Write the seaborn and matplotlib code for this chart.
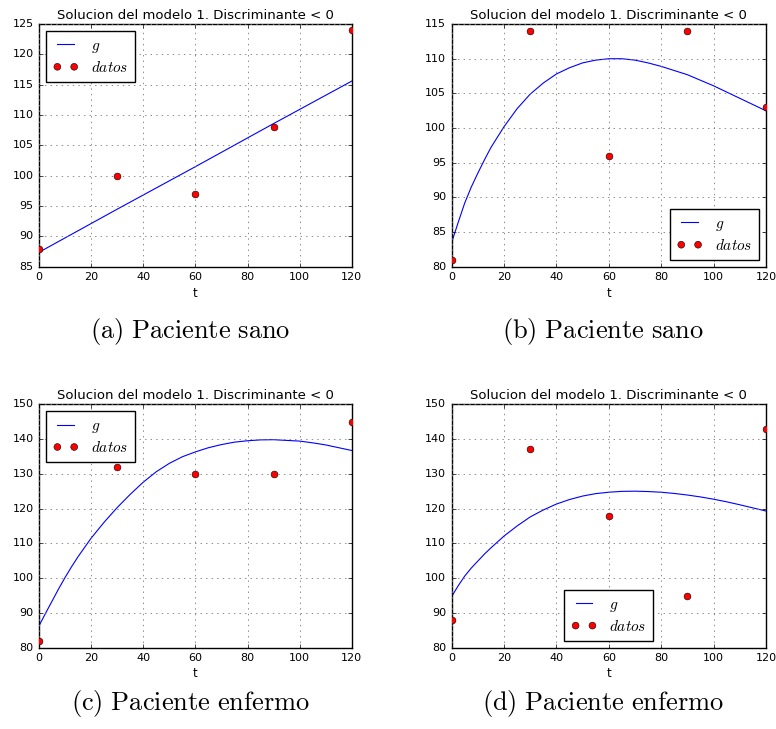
"""
Solucion del modelo 1 (discriminante < 0) para cuatro pacientes:
datos de glucosa medidos y curva g del modelo, en una rejilla 2x2.
"""

import matplotlib
matplotlib.use("Agg")
import matplotlib.pyplot as plt
import seaborn as sns

# ---------------------------------------------------------------------------
# DATA
# ---------------------------------------------------------------------------
t_datos = [0, 30, 60, 90, 120]

datos_a = [88, 100, 97, 108, 124]
datos_b = [81, 114, 96, 114, 103]
datos_c = [82, 132, 130, 130, 145]
datos_d = [88, 137, 118, 95, 143]

# model curve g, sampled at these times
t_a = [0, 30, 60, 90, 120]
g_a = [87.4, 94.5, 101.5, 108.6, 115.6]

t_curva = [0, 2.5, 5, 7.5, 10, 12.5, 15, 20, 25, 30, 35, 40, 45, 50, 55,
           60, 65, 70, 75, 80, 85, 90, 95, 100, 105, 110, 115, 120]
g_b = [83.5, 86.4, 89.2, 91.5, 93.5, 95.4, 97.2, 100.2, 102.8, 104.9,
       106.5, 107.8, 108.7, 109.4, 109.8, 110.0, 110.0, 109.8, 109.4,
       108.9, 108.3, 107.7, 106.9, 106.1, 105.2, 104.3, 103.4, 102.5]
g_c = [86.3, 89.9, 93.4, 96.9, 100.2, 103.3, 106.2, 111.5, 116.1, 120.3,
       124.1, 127.6, 130.6, 133.0, 134.9, 136.3, 137.5, 138.4, 139.1,
       139.5, 139.75, 139.8, 139.6, 139.4, 138.9, 138.3, 137.5, 136.7]
g_d = [94.7, 97.8, 100.6, 102.9, 104.9, 106.9, 108.7, 112.1, 115.0, 117.6,
       119.6, 121.3, 122.6, 123.6, 124.3, 124.7, 124.95, 125.0, 124.9,
       124.7, 124.35, 123.9, 123.35, 122.7, 121.95, 121.1, 120.2, 119.3]

titulo = "Solucion del modelo 1. Discriminante < 0"
captions = ["(a) Paciente sano", "(b) Paciente sano",
            "(c) Paciente enfermo", "(d) Paciente enfermo"]

# ---------------------------------------------------------------------------
# STYLE
# ---------------------------------------------------------------------------
plt.style.use("classic")
plt.rcParams["mathtext.fontset"] = "cm"
plt.rcParams["figure.facecolor"] = "white"

fig = plt.figure(figsize=(7.76, 7.29), dpi=100)

# axes rectangles in figure fractions [left, bottom, width, height]
rects = [
    [0.0503, 0.634, 0.403, 0.333],
    [0.582, 0.634, 0.405, 0.333],
    [0.0503, 0.1115, 0.403, 0.334],
    [0.582, 0.1115, 0.405, 0.334],
]

paneles = [
    (t_a, g_a, datos_a, (85, 125), 5, "upper left"),
    (t_curva, g_b, datos_b, (80, 115), 5, "lower right"),
    (t_curva, g_c, datos_c, (80, 150), 10, "upper left"),
    (t_curva, g_d, datos_d, (80, 150), 10, "lower center"),
]

for rect, (tc, g, datos, ylim, ystep, loc) in zip(rects, paneles):
    ax = fig.add_axes(rect)
    sns.lineplot(x=tc, y=g, color="blue", linewidth=0.8, label="$g$", ax=ax)
    sns.scatterplot(x=t_datos, y=datos, color="red", edgecolor="black",
                    linewidth=0.4, s=24, label="$datos$", ax=ax, zorder=3)

    ax.set_xlim(0, 120)
    ax.set_ylim(*ylim)
    ax.set_xticks(range(0, 121, 20))
    ax.set_yticks(range(ylim[0], ylim[1] + 1, ystep))
    ax.tick_params(labelsize=8, length=3)
    ax.grid(True, linestyle=":", color="#777777", linewidth=0.6)
    ax.set_title(titulo, fontsize=9.5, pad=4)
    ax.set_xlabel("t", fontsize=8.5, labelpad=3)
    ax.set_ylabel("")
    ax.legend(loc=loc, fontsize=11, scatterpoints=2, numpoints=2,
              scatteryoffsets=[0.5], handlelength=1.7, fancybox=False,
              edgecolor="black", framealpha=1, borderaxespad=0.45,
              labelspacing=0.35, borderpad=0.45)

# captions under each panel (LaTeX-like serif)
cap_pos = [(0.245, 0.545), (0.777, 0.545), (0.245, 0.035), (0.777, 0.035)]
for (x, y), txt in zip(cap_pos, captions):
    math_txt = r"$\mathrm{" + txt.replace(" ", r"\ ") + "}$"
    fig.text(x, y, math_txt, ha="center", va="center", fontsize=19)

fig.savefig("out.png", dpi=100, facecolor="white")
